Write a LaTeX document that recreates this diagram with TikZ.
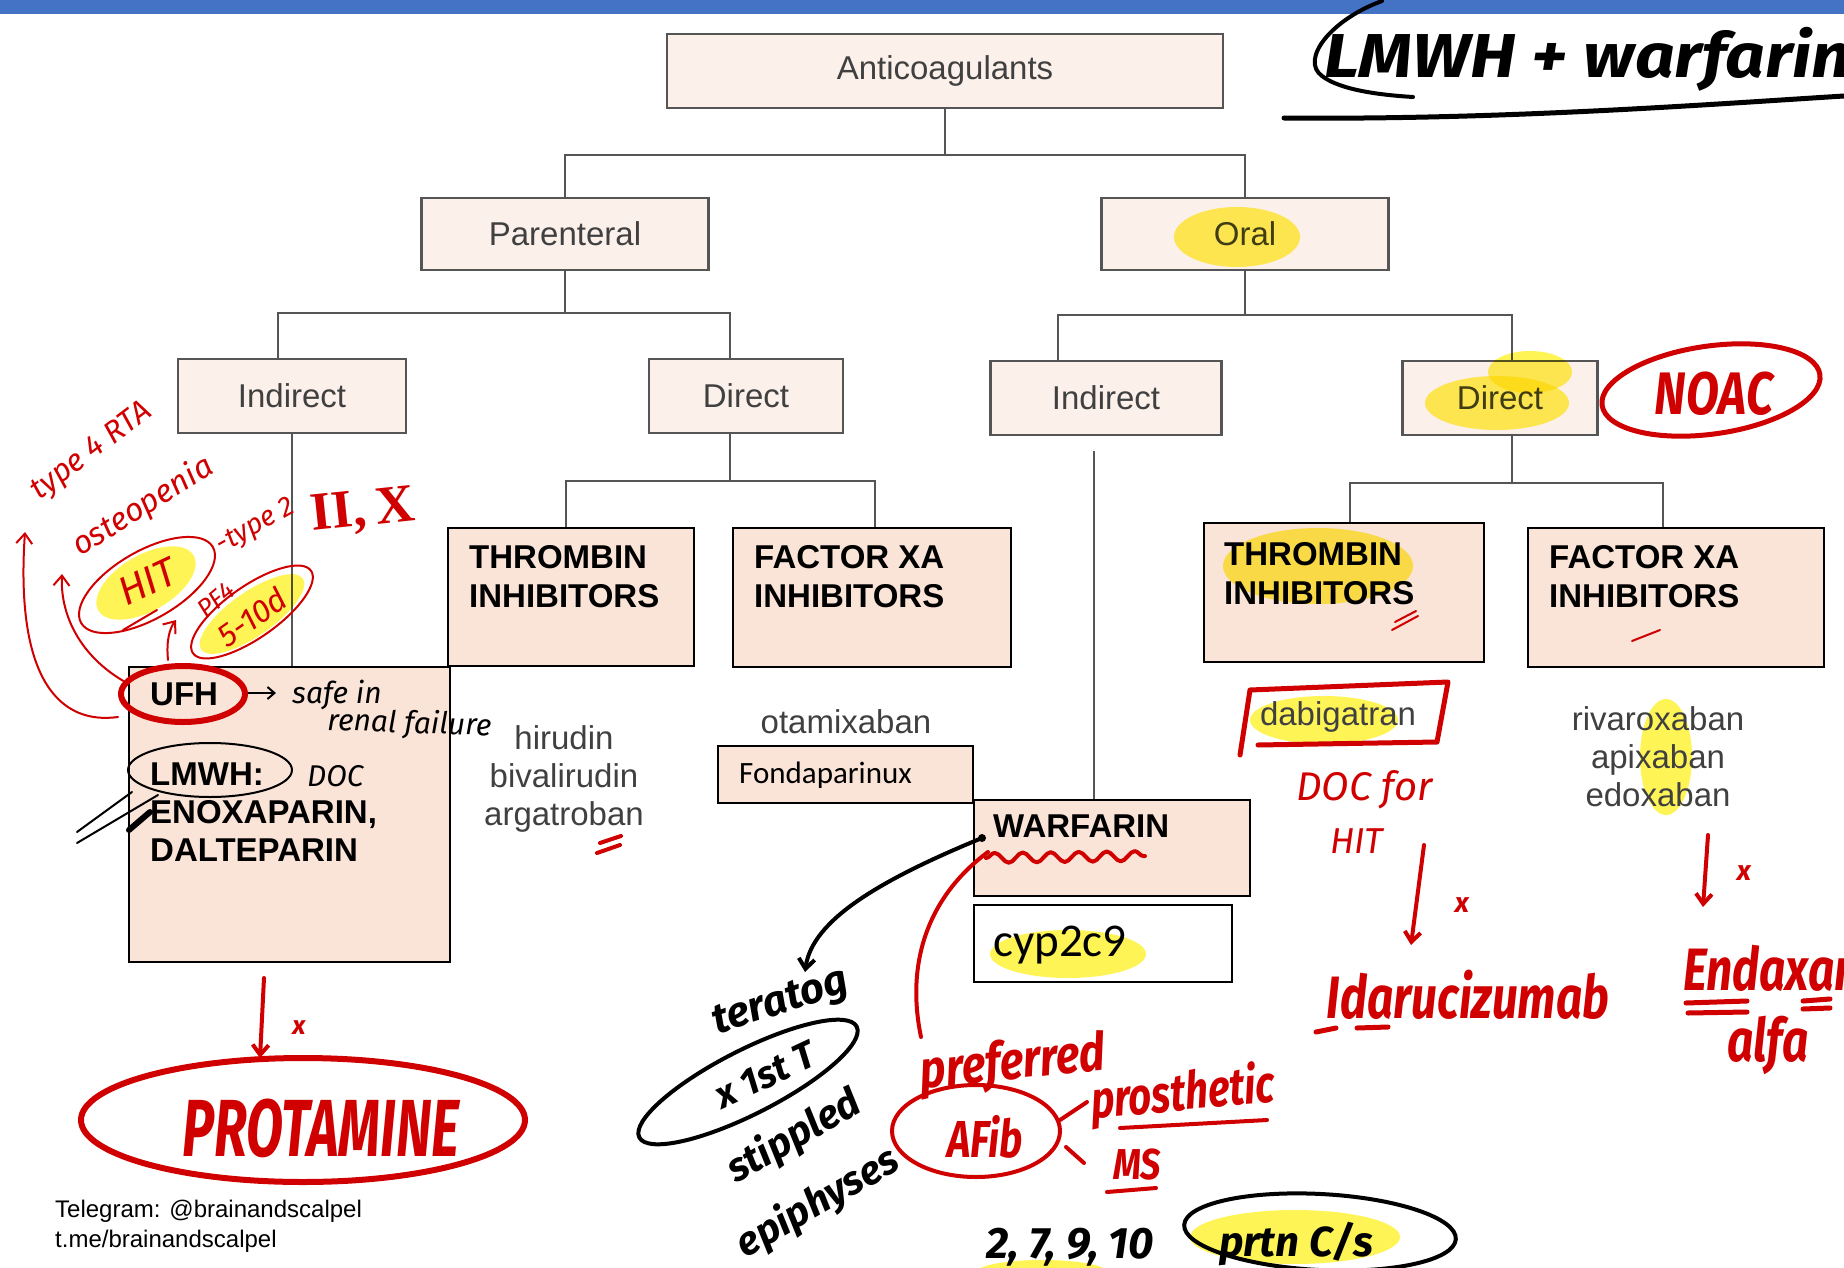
\documentclass[tikz,border=0pt]{standalone}
\usepackage{fontspec}
\setmainfont{Liberation Sans}
\newfontfamily\calib{Carlito}
\newfontfamily\hand{Fira Sans}
\newfontfamily\romfont{Liberation Serif}
\usetikzlibrary{arrows.meta,calc,decorations.pathmorphing}

\definecolor{ink}{HTML}{D00000}
\definecolor{hl}{HTML}{FFF455}
\definecolor{peach}{HTML}{FAE3D7}
\definecolor{pale}{HTML}{FCF0EB}
\definecolor{edge}{HTML}{555555}
\definecolor{grey}{HTML}{404040}
\definecolor{bar}{HTML}{4472C4}

\tikzset{
  level/.style={draw=edge, line width=2.2pt, fill=pale, text=grey, inner sep=0pt,
    font=\fontsize{33}{38}\selectfont},
  catbox/.style={draw=black, line width=2.6pt, fill=peach, inner sep=0pt},
  catlabel/.style={anchor=north west, align=left, inner sep=0pt,
    font=\bfseries\fontsize{33}{39}\selectfont},
  conn/.style={draw=edge, line width=2pt},
  drug/.style={text=grey, align=center, inner sep=0pt, font=\fontsize{33}{38}\selectfont},
  scrawl/.style={font=\hand\itshape\fontsize{#1}{#1}\selectfont, inner sep=0pt},
  bscrawl/.style={font=\hand\itshape\bfseries\fontsize{#1}{#1}\selectfont, inner sep=0pt},
  redpen/.style={draw=ink, line width=2pt, line cap=round, line join=round},
  fatred/.style={draw=ink, line width=5pt, line cap=round, line join=round},
  blackpen/.style={draw=black, line width=2pt, line cap=round, line join=round},
  fatblack/.style={draw=black, line width=5pt, line cap=round, line join=round},
  marker/.style={fill=hl, draw=none, blend mode=multiply},
  tip/.style={-{Straight Barb[length=10pt,width=16pt]}},
}

\begin{document}
\begin{tikzpicture}[x=1pt,y=-1pt]
\useasboundingbox (0,0) rectangle (1844,1268);
\clip (0,0) rectangle (1844,1268);
\fill[bar] (0,0) rectangle (1844,14);

% ---- classification tree ----
\node[level, minimum width=556pt, minimum height=74pt] (anti) at (945,71) {Anticoagulants};
\node[level, minimum width=287pt, minimum height=72pt] (par) at (565,234) {Parenteral};
\node[level, minimum width=287pt, minimum height=72pt] (oral) at (1245,234) {Oral};
\node[level, minimum width=228pt, minimum height=74pt] (indL) at (292,396) {Indirect};
\node[level, minimum width=194pt, minimum height=74pt] (dirL) at (746,396) {Direct};
\node[level, minimum width=231pt, minimum height=74pt] (indR) at (1106,398) {Indirect};
\node[level, minimum width=195pt, minimum height=74pt] (dirR) at (1500,398) {Direct};

\node[catbox, minimum width=246pt, minimum height=138pt] (thrL) at (571,597) {};
\node[catbox, minimum width=278pt, minimum height=139pt] (fxaL) at (872,597.5) {};
\node[catbox, minimum width=280pt, minimum height=139pt] (thrR) at (1344,592.5) {};
\node[catbox, minimum width=296pt, minimum height=139pt] (fxaR) at (1676,597.5) {};
\node[catbox, minimum width=321pt, minimum height=295pt] (ufh) at (289.5,814.5) {};
\node[catbox, line width=2pt, minimum width=255pt, minimum height=57pt] (fond) at (845.5,774.5) {};
\node[catbox, minimum width=276pt, minimum height=96pt] (warf) at (1112,848) {};
\node[draw=black, line width=2pt, fill=white, minimum width=258pt, minimum height=77pt, inner sep=0pt] (cyp) at (1103,943.5) {};

\draw[conn] (anti.south) -- ++(0,46) -| (par.north);
\draw[conn] (anti.south) ++(0,46) -| (oral.north);
\draw[conn] (par.south) -- ++(0,42) -| ([xshift=-14pt]indL.north);
\draw[conn] (par.south) ++(0,42) -| ([xshift=-16pt]dirL.north);
\draw[conn] (oral.south) -- ++(0,44) -| ([xshift=-48pt]indR.north);
\draw[conn] (oral.south) ++(0,44) -| ([xshift=12pt]dirR.north);
\draw[conn] (indL.south) -- (indL.south |- ufh.north);
\draw[conn] ([xshift=-16pt]dirL.south) -- ++(0,47) -| ([xshift=-5pt]thrL.north);
\draw[conn] ([xshift=-16pt]dirL.south) ++(0,47) -| ([xshift=3pt]fxaL.north);
\draw[conn] ([xshift=12pt]dirR.south) -- ++(0,47) -| ([xshift=6pt]thrR.north);
\draw[conn] ([xshift=12pt]dirR.south) ++(0,47) -| ([xshift=-13pt]fxaR.north);
\coordinate (vtop) at ([xshift=-12pt,yshift=-15pt]indR.south);
\draw[draw=edge, line width=1.4pt] (vtop) -- (vtop |- warf.north);

% ---- highlighter strokes ----
\fill[marker] (1237,237) ellipse [x radius=63, y radius=30];
\fill[marker] (1497,403) ellipse [x radius=72, y radius=27];
\fill[marker] (1530,372) ellipse [x radius=42, y radius=21];
\fill[marker] (1318,566) ellipse [x radius=95, y radius=38];
\fill[marker] (1324,720) ellipse [x radius=74, y radius=24];
\fill[marker] (1666,757) ellipse [x radius=26, y radius=58];
\fill[marker] (1068,954) ellipse [x radius=78, y radius=24];
\fill[marker, rotate around={30:(146,583)}] (146,583) ellipse [x radius=55, y radius=28];
\fill[marker, rotate around={35:(252,614)}] (252,614) ellipse [x radius=62, y radius=22];
\fill[marker] (1295,1237) ellipse [x radius=105, y radius=27];
\fill[marker] (1042,1272) ellipse [x radius=65, y radius=12];

% ---- printed texts ----
\node[catlabel] at (469,545) {THROMBIN\\INHIBITORS};
\node[catlabel] at (754,545) {FACTOR XA\\INHIBITORS};
\node[catlabel] at (1224,542) {THROMBIN\\INHIBITORS};
\node[catlabel] at (1549,545) {FACTOR XA\\INHIBITORS};
\node[catlabel, anchor=north west] (ufhT) at (150,683) {UFH};
\node[catlabel, align=left, font=\bfseries\fontsize{33}{38}\selectfont] (lmwh) at (150,763) {LMWH:\\ENOXAPARIN,\\DALTEPARIN};
\node[catlabel] (warfT) at (993,815) {WARFARIN};
\node[drug] (dti) at (564,779) {hirudin\\bivalirudin\\argatroban};
\node[drug] (ota) at (846,722) {otamixaban};
\node[drug] (dabi) at (1338,717) {dabigatran};
\node[drug] (xab) at (1658,757) {rivaroxaban\\apixaban\\edoxaban};
\node[anchor=west, inner sep=0pt, font=\calib\fontsize{31}{31}\selectfont] at (739,775) {Fondaparinux};
\node[anchor=west, inner sep=0pt, font=\calib\fontsize{47}{47}\selectfont] at (993,945) {cyp2c9};
\node[anchor=base west, inner sep=0pt, font=\fontsize{24}{24}\selectfont] at (55,1217) {Telegram: @brainandscalpel};
\node[anchor=base west, inner sep=0pt, font=\fontsize{24}{24}\selectfont] at (55,1247) {t.me/brainandscalpel};

% ---- black pen notes ----
\node[bscrawl=62, xscale=1.12, anchor=base west] at (1324,78) {LMWH + warfarin};
\draw[fatblack, line width=4pt] (1382,1) .. controls (1330,20) and (1300,60) .. (1322,76) .. controls (1340,90) and (1380,95) .. (1413,97);
\draw[fatblack] (1284,118) .. controls (1500,120) and (1700,105) .. (1844,96);

\draw[blackpen, ->, >={Straight Barb[length=7pt,width=12pt]}] (245,693) -- (276,693);
\node[scrawl=30, anchor=base west] at (292,703) {safe in};
\node[scrawl=30, anchor=base west, rotate=-2] at (327,730) {renal failure};
\draw[blackpen] (210,770) ellipse [x radius=82, y radius=27];
\node[scrawl=30, anchor=base west] at (307,786) {DOC};
\draw[blackpen] (77,832) -- (132,792);
\draw[blackpen] (77,843) -- (158,795);
\draw[fatblack, line width=6pt] (129,830) -- (150,812);

\coordinate (wstart) at (982,838);
\fill (wstart) circle [radius=4];
\draw[fatblack, line width=4pt, tip] (wstart) .. controls (880,880) and (812,920) .. (805,972);
\node[bscrawl=42, rotate=18] at (781,1004) {teratog};
\draw[fatblack, line width=4pt, rotate around={27:(748,1082)}] (748,1082) ellipse [x radius=122, y radius=32];
\node[bscrawl=38, rotate=25] at (765,1075) {x 1st T};
\node[bscrawl=40, rotate=30] at (794,1137) {stippled};
\node[bscrawl=40, rotate=30] at (818,1203) {epiphyses};
\node[bscrawl=44, anchor=base] at (1070,1258) {2, 7, 9, 10};
\node[bscrawl=42, anchor=base] at (1296,1256) {prtn C/s};
\draw[fatblack, line width=4pt, rotate around={-3:(1320,1232)}] (1320,1232) ellipse [x radius=136, y radius=38];

% ---- red pen notes ----
\node[text=ink, font=\romfont\bfseries\fontsize{54}{54}\selectfont, inner sep=0pt, rotate=6] at (363,512) {II,\,X};
\node[text=ink, scrawl=31, rotate=37] at (92,452) {type 4 RTA};
\node[text=ink, scrawl=32, rotate=32] at (143,507) {osteopenia};
\node[text=ink, scrawl=40, rotate=25] at (147,582) {HIT};
\draw[redpen, rotate around={30:(147,585)}] (147,585) ellipse [x radius=76, y radius=34];
\node[text=ink, scrawl=28, rotate=29] at (256,527) {-type 2};
\node[text=ink, scrawl=26, rotate=40] at (216,600) {PF4};
\node[text=ink, scrawl=32, rotate=35] at (252,617) {5-10d};
\draw[redpen, rotate around={35:(252,612)}] (252,612) ellipse [x radius=72, y radius=26];
\draw[redpen] (123,630) -- (157,610);
\draw[redpen, tip] (118,717) .. controls (60,725) and (15,680) .. (25,532);
\draw[redpen, tip] (127,683) .. controls (85,660) and (60,620) .. (62,574);
\draw[redpen, tip] (168,660) .. controls (166,640) and (170,628) .. (176,620);
\draw[fatred, line width=6pt] (183,694) ellipse [x radius=62, y radius=28];

\draw[fatred, line width=4pt] (597,853) -- (620,845);
\draw[fatred, line width=4pt] (600,843) -- (621,836);
\draw[redpen] (1392,630) -- (1418,616);
\draw[redpen] (1395,622) -- (1416,611);
\draw[redpen] (1632,641) -- (1660,630);

\draw[fatred] (1258,745) -- (1437,742) -- (1448,682) -- (1250,690) -- (1240,755);
\node[text=ink, scrawl=40, anchor=base west] at (1296,800) {DOC for};
\node[text=ink, scrawl=36, anchor=base west] at (1330,853) {HIT};
\draw[fatred, line width=4pt, tip] (1424,845) -- (1411,945);
\node[text=ink, bscrawl=28] at (1462,905) {x};
\node[text=ink, bscrawl=46, yscale=1.3] at (1468,995) {Idarucizumab};
\draw[fatred] (1316,1032) -- (1336,1028);
\draw[fatred] (1357,1028) -- (1388,1027);
\draw[fatred, line width=4pt, tip] (1708,835) -- (1703,907);
\node[text=ink, bscrawl=28] at (1744,873) {x};
\node[text=ink, bscrawl=46, yscale=1.3, anchor=west] at (1683,968) {Endaxanet};
\node[text=ink, bscrawl=46, yscale=1.3] at (1768,1045) {alfa};
\draw[fatred] (1686,1003) -- (1747,1001);
\draw[fatred] (1688,1013) -- (1747,1012);
\draw[fatred] (1803,1001) -- (1830,999);
\draw[fatred] (1803,1009) -- (1830,1008);

\node[text=ink, bscrawl=26] at (299,1028) {x};
\draw[fatred, line width=4pt, tip] (264,978) -- (260,1058);
\draw[fatred, line width=6pt] (303,1120) ellipse [x radius=222, y radius=62];
\node[text=ink, bscrawl=54, yscale=1.5] at (321,1128) {PROTAMINE};

\draw[fatred, line width=5pt, rotate around={8:(1711,390)}] (1711,390) ellipse [x radius=110, y radius=44];
\node[text=ink, bscrawl=48, yscale=1.25] at (1714,394) {NOAC};

\draw[fatred, line width=4pt, decorate, decoration={snake, amplitude=5pt, segment length=28pt}] (986,858) -- (1145,856);
\draw[fatred, line width=4pt] (988,852) .. controls (930,895) and (905,960) .. (921,1037);
\node[text=ink, bscrawl=44, yscale=1.2, rotate=5] at (1013,1065) {preferred};
\draw[fatred, line width=4pt] (976,1131) ellipse [x radius=84, y radius=46];
\node[text=ink, bscrawl=40, yscale=1.3] at (985,1137) {AFib};
\draw[fatred, line width=4pt] (1060,1120) -- (1087,1102);
\draw[fatred, line width=4pt] (1066,1147) -- (1084,1163);
\node[text=ink, bscrawl=40, yscale=1.3, rotate=4] at (1183,1095) {prosthetic};
\draw[fatred, line width=4pt] (1120,1128) -- (1267,1120);
\node[text=ink, bscrawl=36, yscale=1.2] at (1137,1165) {MS};
\draw[fatred, line width=4pt] (1107,1192) -- (1156,1188);
\end{tikzpicture}
\end{document}
